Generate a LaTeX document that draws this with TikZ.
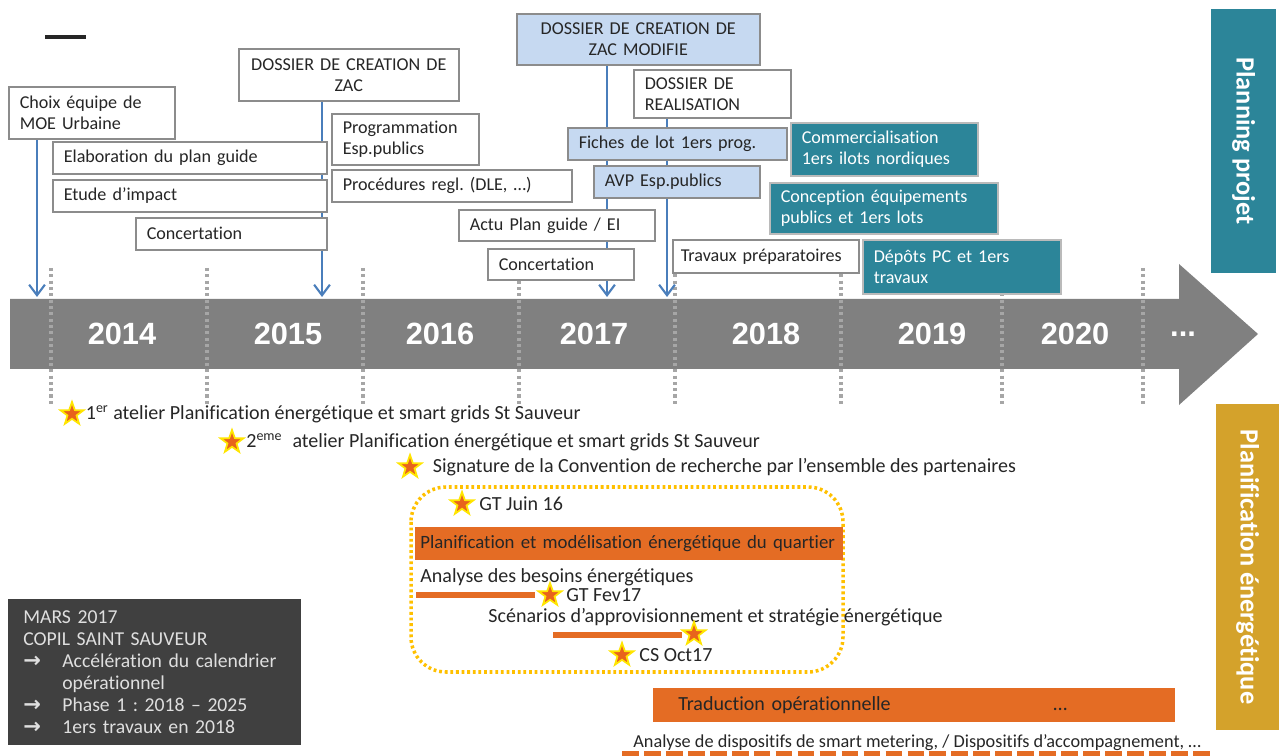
\documentclass[tikz,border=0pt]{standalone}
\usepackage{fontspec}
\setmainfont{Carlito}[Ligatures=NoCommon]
\newfontfamily\yearfont{Liberation Sans}
\newfontfamily\arrowfont{DejaVu Sans}
\usetikzlibrary{positioning,arrows.meta,shapes.geometric}
\frenchspacing

\definecolor{boxgrey}{HTML}{8C8C8C}
\definecolor{lightbluec}{HTML}{C6D9F1}
\definecolor{tealc}{HTML}{2C8599}
\definecolor{goldc}{HTML}{D4A22B}
\definecolor{orangec}{HTML}{E46C24}
\definecolor{dotyellow}{HTML}{FFC000}
\definecolor{timegrey}{HTML}{808080}
\definecolor{gridgrey}{HTML}{A6A6A6}
\definecolor{darkc}{HTML}{404040}
\definecolor{arrowblue}{HTML}{4A7EBB}
\definecolor{starfill}{HTML}{E8631C}
\definecolor{staredge}{HTML}{FFE500}
\definecolor{textdark}{HTML}{262626}

\pgfdeclarelayer{background}
\pgfsetlayers{background,main}

\tikzset{
  box/.style={draw=boxgrey, fill=white, line width=0.9pt, anchor=north west,
    align=left, inner xsep=0.22cm, inner ysep=0pt, text=textdark,
    font=\fontsize{10.3}{11.9}\selectfont},
  bluebox/.style={box, fill=lightbluec},
  tealbox/.style={box, draw=boxgrey!60, fill=tealc, text=white},
  orangebox/.style={fill=orangec, anchor=north west, align=left, inner xsep=0.1cm,
    inner ysep=0pt, text=textdark, font=\fontsize{11.4}{13}\selectfont},
  note/.style={anchor=west, inner sep=0pt, text=textdark,
    font=\fontsize{11.4}{13}\selectfont},
  year/.style={text=white, inner sep=0pt, font=\yearfont\bfseries\fontsize{17.5}{20}\selectfont},
  sidebar/.style={rotate=-90, text=white, inner sep=0pt, font=\bfseries\fontsize{15}{18}\selectfont},
  starmark/.style={star, star points=5, star point ratio=2.5, minimum size=0.48cm,
    inner sep=0pt, fill=starfill, draw=staredge, line width=1pt},
  milestone/.style={arrowblue, line width=1.2pt, -{Straight Barb[length=6pt, width=9pt]}},
  copil/.style={fill=darkc, anchor=north west, align=left, inner xsep=0.3cm, inner ysep=0pt,
    text=gray!25, font=\fontsize{11.2}{12.5}\selectfont},
}
\newcommand{\copilarrow}{\makebox[0.78cm][l]{\arrowfont\bfseries\fontsize{12}{12}\selectfont →}}

\begin{document}
\begin{tikzpicture}[x=0.02cm, y=-0.02cm]
\useasboundingbox (0,0) rectangle (1280,756);

\draw[black!85, line width=2.3pt] (45,37) -- (86,37);

% planning boxes
\node[box, text width=2.88cm, minimum height=1.04cm] (choix) at (8,86) {Choix équipe de\\MOE Urbaine};
\node[box, text width=5.04cm, minimum height=0.64cm] (elab) at (52,141) {Elaboration du plan guide};
\node[box, text width=5.04cm, minimum height=0.64cm] (etude) at (52,179) {Etude d’impact};
\node[box, text width=3.38cm, minimum height=0.64cm] (concA) at (135,217) {Concertation};
\node[box, align=center, text width=3.96cm, minimum height=1.04cm] (zac) at (238,48) {DOSSIER DE CREATION DE\\ZAC};
\node[box, text width=2.50cm, minimum height=1.02cm] (prog) at (331,113) {Programmation\\Esp.publics};
\node[box, text width=4.36cm, minimum height=0.64cm] (proc) at (331,169) {Procédures regl. (DLE, …)};
\node[box, text width=3.48cm, minimum height=0.62cm] (actu) at (458,209) {Actu Plan guide / EI};
\node[box, text width=2.48cm, minimum height=0.62cm] (concB) at (487,248) {Concertation};
\node[bluebox, align=center, text width=4.42cm, minimum height=1.02cm] (zacmod) at (516,13) {DOSSIER DE CREATION DE\\ZAC MODIFIE};
\node[box, text width=2.70cm, minimum height=0.96cm] (real) at (633,69) {DOSSIER DE\\REALISATION};
\node[bluebox, text width=3.94cm, minimum height=0.64cm] (fiches) at (567,127) {Fiches de lot 1ers prog.};
\node[bluebox, text width=2.88cm, minimum height=0.64cm] (avp) at (593,165) {AVP Esp.publics};
\node[box, inner xsep=0.16cm, text width=3.40cm, minimum height=0.66cm] (trav) at (672,239) {Travaux préparatoires};
\node[tealbox, text width=3.30cm, minimum height=1.06cm] (comm) at (790,122) {Commercialisation\\1ers ilots nordiques};
\node[tealbox, text width=4.12cm, minimum height=1.02cm] (concep) at (769,182) {Conception équipements\\publics et 1ers lots};
\node[tealbox, text width=3.52cm, minimum height=1.08cm] (depots) at (862,239) {Dépôts PC et 1ers\\travaux};

\node[sidebar, fill=tealc, minimum width=5.28cm, minimum height=1.3cm] (planning) at (1243.5,141) {Planning projet};
\node[sidebar, fill=goldc, minimum width=6.52cm, minimum height=1.26cm] (planif) at (1247.5,567) {Planification énergétique};

% time line
\coordinate (m14) at (37,297);
\coordinate (m15) at (322,297);
\coordinate (m17) at (607,297);
\coordinate (m17b) at (667,297);
\begin{pgfonlayer}{background}
\fill[timegrey] (10,299) -- (1179,299) -- (1179,264) -- (1258,334) -- (1179,405) -- (1179,369) -- (10,369) -- cycle;
\foreach \gx in {51,207,363,519,675,841,1002,1143}
  \draw[gridgrey, line width=1.8pt, dash pattern=on 1.8pt off 1.8pt] (\gx,268) -- (\gx,405);
\draw[milestone] (choix.south -| m14) -- (m14);
\draw[milestone] (zac.south -| m15) -- (m15);
\draw[milestone] (zacmod.south -| m17) -- (m17);
\draw[milestone] (real.south -| m17b) -- (m17b);
\end{pgfonlayer}
\foreach \yx/\yr in {122/2014,288/2015,440/2016,594/2017,766/2018,932/2019,1075/2020}
  \node[year] (y\yr) at (\yx,334) {\yr};
\node[year] (ymore) at (1183,334) {...};

% energy planning
\node[starmark] (s1) at (72,414) {};
\node[note, right=0.27cm of s1.center] (atelierA) {1\textsuperscript{er} atelier Planification énergétique et smart grids St Sauveur};
\node[starmark] (s2) at (232,442) {};
\node[note, right=0.28cm of s2.center] (atelierB) {2\textsuperscript{eme}\hspace{0.5em}atelier Planification énergétique et smart grids St Sauveur};
\node[starmark] (s3) at (410,467) {};
\node[note, right=0.45cm of s3.center] (conv) {Signature de la Convention de recherche par l’ensemble des partenaires};

\draw[dotyellow, line width=2pt, dash pattern=on 1.6pt off 1.6pt, rounded corners=0.7cm] (411,487) rectangle (843,672);
\node[starmark] (sjuin) at (462,504) {};
\node[note, right=0.34cm of sjuin.center] (gtjuin) {GT Juin 16};
\node[orangebox, text width=8.36cm, minimum height=0.66cm, font=\fontsize{10.7}{13}\selectfont] (modbar) at (415,527) {Planification et modélisation énergétique du quartier};
\node[note] (besoins) at (420,577) {Analyse des besoins énergétiques};
\fill[orangec] (416,592) rectangle (535,598);
\node[starmark] (sfev) at (550,595) {};
\node[note, right=0.32cm of sfev.center] (gtfev) {GT Fev17};
\node[note] (scen) at (488,617) {Scénarios d’approvisionnement et stratégie énergétique};
\fill[orangec] (553,632) rectangle (682,638);
\node[starmark] (sscen) at (694,634) {};
\node[starmark] (soct) at (622,655) {};
\node[note, right=0.34cm of soct.center] (csoct) {CS Oct17};

\node[orangebox, inner xsep=0.5cm, text width=9.44cm, minimum height=0.68cm] (trad) at (653,688) {\makebox[7.5cm][l]{Traduction opérationnelle}…};
\node[note, font=\fontsize{10.4}{12}\selectfont] (smart) at (633,743) {Analyse de dispositifs de smart metering, / Dispositifs d’accompagnement, …};
\draw[orangec, line width=3.5pt, dash pattern=on 9.5pt off 3pt] (622,754) -- (1210,754);

% copil
\node[copil, text width=5.26cm, minimum width=5.86cm, minimum height=2.92cm] (copilbox) at (8,599) {MARS 2017\\
COPIL SAINT SAUVEUR\\
\copilarrow Accélération du calendrier\\
\hspace*{0.78cm}opérationnel\\
\copilarrow Phase 1 : 2018 – 2025\\
\copilarrow 1ers travaux en 2018};
\end{tikzpicture}
\end{document}
